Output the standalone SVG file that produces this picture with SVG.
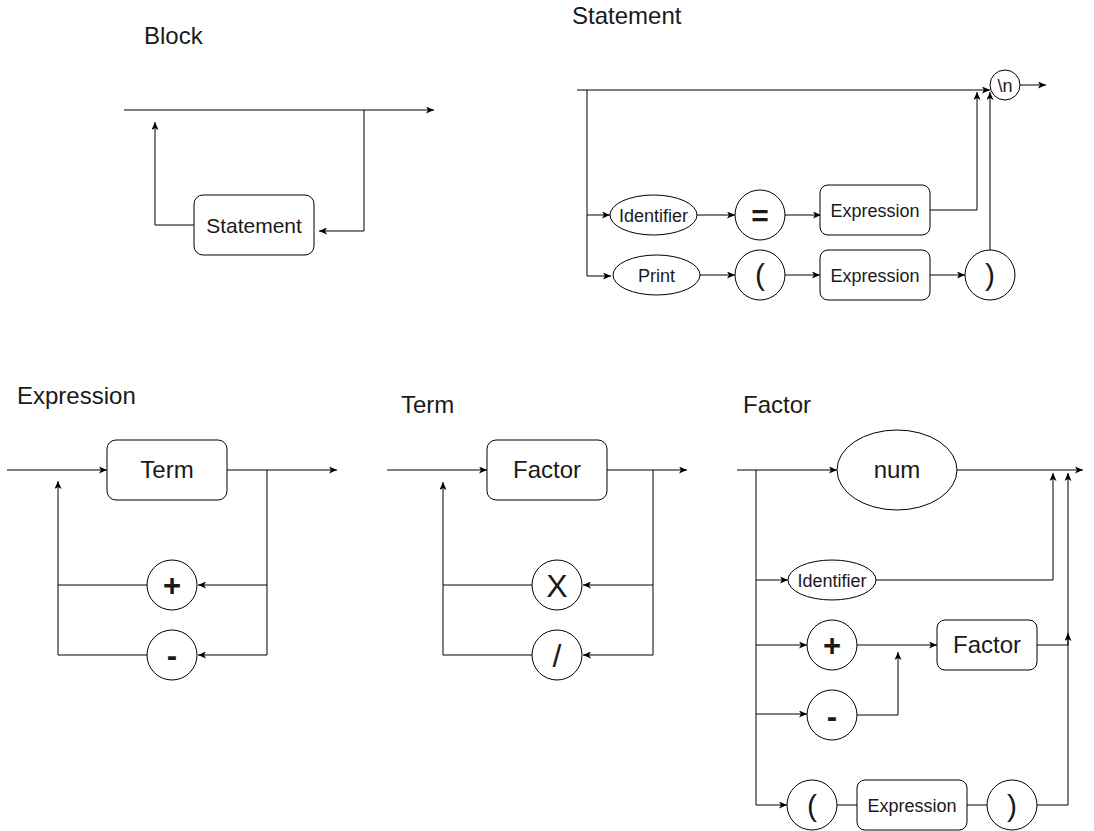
<svg xmlns="http://www.w3.org/2000/svg" width="1094" height="831" viewBox="0 0 1094 831">
<style>
.bg{fill:#fff}
.shape{fill:#fff;stroke:#000;stroke-width:1}
.edge{fill:none;stroke:#000;stroke-width:1}
.arr{marker-end:url(#ah)}
text{font-family:"Liberation Sans",Arial,Helvetica,sans-serif;fill:#1a1a1a}
.title{font-size:24px}
.big{font-size:24px;text-anchor:middle}
.mid{font-size:21px;text-anchor:middle}
.sm{font-size:18px;text-anchor:middle}
.sym{font-size:32px;text-anchor:middle}
.op{font-size:31px;font-weight:bold;text-anchor:middle}
.par{font-size:30px;text-anchor:middle}
.eq{font-size:30px;font-weight:bold;text-anchor:middle}
</style>
<defs>
<marker id="ah" viewBox="0 0 8 7" markerWidth="8" markerHeight="7" refX="8" refY="3.5" markerUnits="userSpaceOnUse" orient="auto">
<path d="M0,0 L8,3.5 L0,7 L2,3.5 Z" fill="#000"/>
</marker>
</defs>
<rect class="bg" x="0" y="0" width="1094" height="831"/>

<g id="titles">
<text class="title" x="144" y="44">Block</text>
<text class="title" x="572" y="23.5">Statement</text>
<text class="title" x="17" y="404">Expression</text>
<text class="title" x="401" y="413">Term</text>
<text class="title" x="743" y="413">Factor</text>
</g>

<g id="connectors">
<!-- Block -->
<path class="edge arr" d="M124,110 H434"/>
<path class="edge arr" d="M364,110 V231 H319"/>
<path class="edge arr" d="M194,225 H155 V122"/>
<!-- Statement -->
<path class="edge arr" d="M577,90 H990"/>
<path class="edge arr" d="M587,90 V276 H611"/>
<path class="edge arr" d="M587,215 H610"/>
<path class="edge arr" d="M697,215 H735"/>
<path class="edge arr" d="M785,215 H821"/>
<path class="edge arr" d="M930,210 H977 V92"/>
<path class="edge arr" d="M700,275 H735"/>
<path class="edge arr" d="M785,275 H820"/>
<path class="edge arr" d="M930,275 H965"/>
<path class="edge arr" d="M990,250 V92"/>
<path class="edge arr" d="M1020,85 H1046"/>
<!-- Expression -->
<path class="edge arr" d="M7,470 H107"/>
<path class="edge arr" d="M227,470 H337"/>
<path class="edge arr" d="M267,470 V655 H198"/>
<path class="edge arr" d="M267,585 H198"/>
<path class="edge arr" d="M147,585 H58 V481"/>
<path class="edge" d="M147,655 H58 V585"/>
<!-- Term -->
<path class="edge arr" d="M387,470 H487"/>
<path class="edge arr" d="M607,470 H687"/>
<path class="edge arr" d="M653,470 V655 H583"/>
<path class="edge arr" d="M653,585 H583"/>
<path class="edge arr" d="M532,585 H443 V482"/>
<path class="edge" d="M532,655 H443 V585"/>
<!-- Factor -->
<path class="edge arr" d="M737,470 H837"/>
<path class="edge arr" d="M957,470 H1083"/>
<path class="edge arr" d="M756,470 V805 H787"/>
<path class="edge arr" d="M756,580 H788"/>
<path class="edge arr" d="M756,645 H807"/>
<path class="edge arr" d="M756,714 H807"/>
<path class="edge arr" d="M876,580 H1053 V473"/>
<path class="edge arr" d="M857,645 H937"/>
<path class="edge arr" d="M857,715 H898 V652"/>
<path class="edge arr" d="M1037,645 H1068 V633"/>
<path class="edge" d="M837,805 H857"/>
<path class="edge" d="M967,805 H987"/>
<path class="edge arr" d="M1037,805 H1068 V473"/>
</g>

<!-- Block nodes -->
<g id="block-statement">
<rect class="shape" x="194" y="195" width="120" height="60" rx="9"/>
<text class="mid" x="254" y="233">Statement</text>
</g>

<!-- Statement nodes -->
<g id="stmt-newline">
<circle class="shape" cx="1005" cy="85" r="15"/>
<text class="sm" x="1005" y="92">\n</text>
</g>
<g id="stmt-identifier">
<ellipse class="shape" cx="653.5" cy="215" rx="43.5" ry="20"/>
<text class="sm" x="653.5" y="221.5">Identifier</text>
</g>
<g id="stmt-eq">
<circle class="shape" cx="760" cy="215" r="25"/>
<text class="eq" x="760" y="226">=</text>
</g>
<g id="stmt-expr1">
<rect class="shape" x="820" y="185" width="110" height="50" rx="8"/>
<text class="sm" x="875" y="216.5">Expression</text>
</g>
<g id="stmt-print">
<ellipse class="shape" cx="656.5" cy="275" rx="43.5" ry="20"/>
<text class="sm" x="656.5" y="281.5">Print</text>
</g>
<g id="stmt-lparen">
<circle class="shape" cx="760" cy="275" r="25"/>
<text class="par" x="760" y="285">(</text>
</g>
<g id="stmt-expr2">
<rect class="shape" x="820" y="250" width="110" height="50" rx="8"/>
<text class="sm" x="875" y="282">Expression</text>
</g>
<g id="stmt-rparen">
<circle class="shape" cx="990" cy="275" r="25"/>
<text class="par" x="990" y="285">)</text>
</g>

<!-- Expression nodes -->
<g id="expr-term">
<rect class="shape" x="107" y="440" width="120" height="60" rx="9"/>
<text class="big" x="167" y="478">Term</text>
</g>
<g id="expr-plus">
<circle class="shape" cx="172" cy="585" r="25"/>
<text class="op" x="172" y="596">+</text>
</g>
<g id="expr-minus">
<circle class="shape" cx="172" cy="655" r="25"/>
<text class="op" x="172" y="666">-</text>
</g>

<!-- Term nodes -->
<g id="term-factor">
<rect class="shape" x="487" y="440" width="120" height="60" rx="9"/>
<text class="big" x="547" y="478">Factor</text>
</g>
<g id="term-mul">
<circle class="shape" cx="557" cy="585" r="25"/>
<text class="sym" x="557" y="597">X</text>
</g>
<g id="term-div">
<circle class="shape" cx="557" cy="655" r="25"/>
<text class="sym" x="557" y="667">/</text>
</g>

<!-- Factor nodes -->
<g id="factor-num">
<ellipse class="shape" cx="897" cy="470" rx="60" ry="40"/>
<text class="big" x="897" y="478">num</text>
</g>
<g id="factor-identifier">
<ellipse class="shape" cx="832" cy="580" rx="44" ry="20"/>
<text class="sm" x="832" y="587">Identifier</text>
</g>
<g id="factor-plus">
<circle class="shape" cx="832" cy="645" r="25"/>
<text class="op" x="832" y="656">+</text>
</g>
<g id="factor-factor">
<rect class="shape" x="937" y="620" width="100" height="50" rx="8"/>
<text class="big" x="987" y="653">Factor</text>
</g>
<g id="factor-minus">
<circle class="shape" cx="832" cy="715" r="25"/>
<text class="op" x="832" y="727">-</text>
</g>
<g id="factor-lparen">
<circle class="shape" cx="812" cy="805" r="25"/>
<text class="par" x="812" y="816">(</text>
</g>
<g id="factor-expr">
<rect class="shape" x="857" y="780" width="110" height="50" rx="8"/>
<text class="sm" x="912" y="812">Expression</text>
</g>
<g id="factor-rparen">
<circle class="shape" cx="1012" cy="805" r="25"/>
<text class="par" x="1012" y="816">)</text>
</g>
</svg>
